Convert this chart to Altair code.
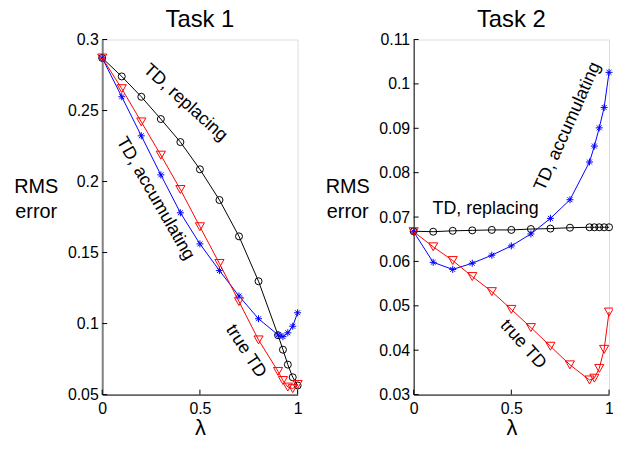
import altair as alt
import pandas as pd

lam = [0, .1, .2, .3, .4, .5, .6, .7, .8, .9, .925, .95, .975, 1.0]

t1_repl = [0.287, 0.274, 0.2597, 0.244, 0.2278, 0.2086, 0.187, 0.1614, 0.1298, 0.0918, 0.0816, 0.0711, 0.0622, 0.0564]
t1_accu = [0.287, 0.2597, 0.2322, 0.2047, 0.178, 0.1561, 0.1373, 0.1194, 0.1034, 0.092, 0.0908, 0.0935, 0.0981, 0.1076]
t1_true = [0.287, 0.2654, 0.242, 0.2186, 0.1944, 0.1682, 0.1423, 0.1155, 0.0885, 0.0663, 0.0599, 0.0553, 0.0542, 0.0571]

t2_repl = [0.0668, 0.0667, 0.0669, 0.067, 0.0671, 0.0671, 0.0673, 0.0674, 0.0676, 0.0677, 0.0677, 0.0677, 0.0677, 0.0677]
t2_accu = [0.0667, 0.0598, 0.0582, 0.0596, 0.0614, 0.0635, 0.0662, 0.0697, 0.0739, 0.0824, 0.086, 0.0901, 0.0947, 0.1026]
t2_true = [0.0667, 0.0633, 0.0602, 0.0566, 0.0532, 0.0492, 0.0451, 0.0409, 0.0367, 0.0333, 0.0337, 0.0359, 0.0402, 0.0486]

series = ["TD, replacing", "TD, accumulating", "true TD"]
colors = ["#000000", "#0000ff", "#ff0000"]
ASTERISK = "M-1,0L1,0M0,-1L0,1M-0.7,-0.7L0.7,0.7M-0.7,0.7L0.7,-0.7"
shapes = ["circle", ASTERISK, "triangle-down"]
sizes = [50, 50, 85]

t1_yticks = [0.05, 0.1, 0.15, 0.2, 0.25, 0.3]
t2_yticks = [0.03, 0.04, 0.05, 0.06, 0.07, 0.08, 0.09, 0.1, 0.11]
xticks = [0, 0.5, 1]

# annotation labels: text, lambda, value, angle
t1_labels = [("TD, replacing", 0.425, 0.2555, 42),
             ("TD, accumulating", 0.272, 0.188, 60),
             ("true TD", 0.735, 0.0804, 57)]
t2_labels = [("TD, accumulating", 0.789, 0.0904, 294),
             ("TD, replacing", 0.368, 0.0717, 0),
             ("true TD", 0.56, 0.0413, 48)]

FONT = "Liberation Sans"
W, H = 197, 358


def panel(title, vals, ydom, yticks, labels, ydomain_color, ydomain_width):
    xsc = alt.Scale(domain=[0, 1], nice=False, zero=False)
    ysc = alt.Scale(domain=ydom, nice=False, zero=False)
    xax = alt.Axis(values=xticks, format="~g", tickSize=0, labelPadding=6,
                   labelFontSize=16, labelFont=FONT, labelColor="black",
                   title="λ", titleFontSize=22, titleFont=FONT, titleFontWeight="normal",
                   titlePadding=1, domainColor="black", grid=False, labelFlush=False)
    yax = alt.Axis(values=yticks, format="~g", tickSize=0, labelPadding=4,
                   labelFontSize=16, labelFont=FONT, labelColor="black",
                   title=["RMS", "error"], titleAngle=0, titleAlign="center",
                   titleBaseline="alphabetic", titleX=-67, titleY=154, titleLineHeight=25,
                   titleFontSize=20, titleFont=FONT, titleFontWeight="normal",
                   domainColor=ydomain_color, domainWidth=ydomain_width, grid=False,
                   labelFlush=False)
    layers = []
    for s, v, c, sh, sz in zip(series, vals, colors, shapes, sizes):
        df = pd.DataFrame({"lam": lam, "v": v})
        base = alt.Chart(df)
        layers.append(base.mark_line(color=c, strokeWidth=1).encode(
            x=alt.X("lam:Q", scale=xsc, axis=xax),
            y=alt.Y("v:Q", scale=ysc, axis=yax)))
        layers.append(base.mark_point(color=c, shape=sh, size=sz, filled=False,
                                      strokeWidth=1, opacity=1).encode(
            x="lam:Q", y="v:Q"))
    ytk = pd.DataFrame({"v": yticks})
    layers.append(alt.Chart(ytk).mark_rule(color="black", strokeWidth=1).encode(
        x=alt.value(0), x2=alt.value(5), y="v:Q"))
    xtk = pd.DataFrame({"lam": xticks})
    layers.append(alt.Chart(xtk).mark_rule(color="black", strokeWidth=1).encode(
        x="lam:Q", y=alt.value(H), y2=alt.value(H - 5)))
    for txt, lx, ly, ang in labels:
        ldf = pd.DataFrame({"lam": [lx], "v": [ly], "t": [txt]})
        layers.append(alt.Chart(ldf).mark_text(font=FONT, fontSize=18, angle=ang,
                                               align="center", baseline="middle",
                                               color="black").encode(
            x="lam:Q", y="v:Q", text="t:N"))
    return alt.layer(*layers).properties(
        width=W, height=H,
        title=alt.TitleParams(title, fontSize=24, font=FONT, fontWeight="normal",
                              anchor="middle", offset=0, color="black"))


p1 = panel("Task 1", [t1_repl, t1_accu, t1_true], [0.05, 0.3], t1_yticks, t1_labels, "#808080", 2)
p2 = panel("Task 2", [t2_repl, t2_accu, t2_true], [0.03, 0.11], t2_yticks, t2_labels, "black", 1)

chart = alt.hconcat(p1, p2, spacing=19).properties(
    padding={"left": 5, "right": -4, "top": -3, "bottom": -2}
).configure_view(stroke=None).configure(background="white")

chart.save("out.html", embed_options={"renderer": "svg", "actions": False})
